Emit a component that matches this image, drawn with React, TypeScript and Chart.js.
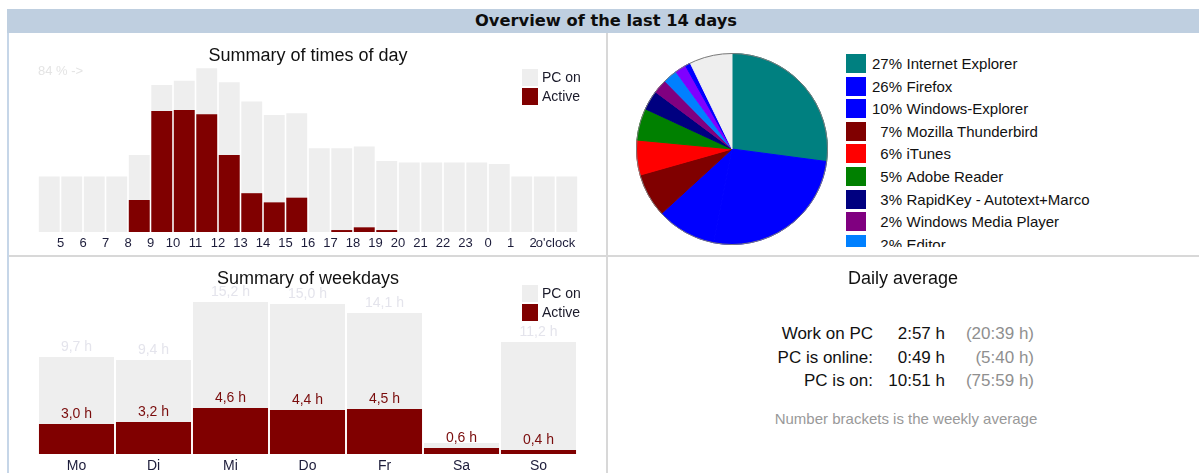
import React, { useEffect, useRef } from 'react';
import { Chart, registerables } from 'chart.js';

Chart.register(...registerables);

const FONT = '"Liberation Sans", Arial, sans-serif';
const BOLD_FONT = '"DejaVu Sans", Verdana, sans-serif';
const PC_ON_COLOR = '#EEEEEE';
const ACTIVE_COLOR = '#800000';
const TICK_COLOR = '#1c1c3a';

// ---- Summary of times of day (bars are hours 4..3, labels mark the start of each hour)
const hourCategories = ['4', '5', '6', '7', '8', '9', '10', '11', '12', '13', '14', '15', '16', '17', '18', '19', '20', '21', '22', '23', '0', '1', '2', '3'];
const hourTickLabels = ['', '5', '6', '7', '8', '9', '10', '11', '12', '13', '14', '15', '16', '17', '18', '19', '20', '21', '22', '23', '0', '1', '2', "o'clock", ''];
const pcOnByHour = [28.4, 28.4, 28.4, 28.4, 39.5, 75.4, 77.6, 84.0, 76.8, 66.9, 60.0, 60.9, 42.9, 42.9, 43.8, 36.4, 35.6, 35.6, 35.6, 35.6, 34.9, 28.4, 28.4, 28.4];
const activeByHour = [0, 0, 0, 0, 16.4, 62.1, 62.6, 60.4, 39.5, 19.9, 15.2, 17.6, 0, 1.0, 2.4, 1.0, 0, 0, 0, 0, 0, 0, 0, 0];

// ---- Summary of weekdays (hours)
const weekdays = ['Mo', 'Di', 'Mi', 'Do', 'Fr', 'Sa', 'So'];
const pcOnByWeekday = [9.7, 9.4, 15.2, 15.0, 14.1, 1.1, 11.2];
const activeByWeekday = [3.0, 3.2, 4.6, 4.4, 4.5, 0.6, 0.4];

// ---- Programs pie (percent)
const programNames = ['Internet Explorer', 'Firefox', 'Windows-Explorer', 'Mozilla Thunderbird', 'iTunes', 'Adobe Reader', 'RapidKey - Autotext+Marco', 'Windows Media Player', 'Editor', 'Program 10', 'Program 11', 'Others'];
const programShares = [27.1, 26.0, 10.1, 7.4, 5.9, 5.4, 3.3, 2.4, 2.4, 1.9, 0.9, 7.2];
const programColors = ['#008080', '#0000FF', '#0000FF', '#800000', '#FF0000', '#008000', '#000080', '#800080', '#0080FF', '#8000FF', '#0000FF', '#EEEEEE'];

// ---- Daily average
const averageLabels = ['Work on PC', 'PC is online:', 'PC is on:'];
const averageDaily = ['2:57 h', '0:49 h', '10:51 h'];
const averageWeekly = ['(20:39 h)', '(5:40 h)', '(75:59 h)'];

const fmtHours = (v: number) => v.toFixed(1).replace('.', ',') + ' h';

const weekdayLabelsPlugin = {
  id: 'weekdayLabels',
  afterDatasetsDraw(chart: any) {
    const ctx = chart.ctx;
    ctx.save();
    ctx.font = `14px ${FONT}`;
    ctx.textAlign = 'center';
    ctx.textBaseline = 'bottom';
    const activeMeta = chart.getDatasetMeta(0);
    const pcMeta = chart.getDatasetMeta(1);
    pcMeta.data.forEach((bar: any, i: number) => {
      if (pcOnByWeekday[i] - activeByWeekday[i] < 1.5) return;
      ctx.fillStyle = '#E4E4EC';
      ctx.fillText(fmtHours(pcOnByWeekday[i]), bar.x, bar.y - 3);
    });
    activeMeta.data.forEach((bar: any, i: number) => {
      ctx.fillStyle = '#7a0c0c';
      ctx.fillText(fmtHours(activeByWeekday[i]), bar.x, bar.y - 3);
    });
    ctx.restore();
  },
};

const pieOutlinePlugin = {
  id: 'pieOutline',
  afterDatasetsDraw(chart: any) {
    const arc = chart.getDatasetMeta(0).data[0];
    if (!arc) return;
    const ctx = chart.ctx;
    ctx.save();
    ctx.beginPath();
    ctx.arc(arc.x, arc.y, arc.outerRadius, 0, Math.PI * 2);
    ctx.strokeStyle = '#7a7a7a';
    ctx.lineWidth = 1;
    ctx.stroke();
    ctx.restore();
  },
};

const abs = (o: React.CSSProperties): React.CSSProperties => ({ position: 'absolute', ...o });

function Legend({ left, top }: { left: number; top: number }) {
  return (
    <>
      <div style={abs({ left, top, width: 16, height: 17, background: PC_ON_COLOR })} />
      <div style={abs({ left, top: top + 19, width: 16, height: 17, background: ACTIVE_COLOR })} />
      <div style={abs({ left: left + 20, top, height: 17, lineHeight: '17px', fontSize: 14, fontFamily: FONT, color: '#1a1a2a', whiteSpace: 'nowrap' })}>PC on</div>
      <div style={abs({ left: left + 20, top: top + 19, height: 17, lineHeight: '17px', fontSize: 14, fontFamily: FONT, color: '#1a1a2a', whiteSpace: 'nowrap' })}>Active</div>
    </>
  );
}

function Centered({ cx, cy, size, color, children, bold, family }: any) {
  return (
    <div style={abs({ left: cx - 250, width: 500, top: cy - 12, height: 24, lineHeight: '24px', textAlign: 'center', fontSize: size, color, fontFamily: family || FONT, fontWeight: bold ? 'bold' : 'normal', whiteSpace: 'nowrap' })}>
      {children}
    </div>
  );
}

export default function App() {
  const hoursRef = useRef<HTMLCanvasElement>(null);
  const pieRef = useRef<HTMLCanvasElement>(null);
  const weekRef = useRef<HTMLCanvasElement>(null);

  useEffect(() => {
    const charts: Chart[] = [];

    charts.push(
      new Chart(hoursRef.current!, {
        type: 'bar',
        data: {
          labels: hourCategories,
          datasets: [
            {
              label: 'Active',
              data: activeByHour.map((v, i) => ({ x: i + 4.5, y: v })),
              backgroundColor: ACTIVE_COLOR,
              grouped: false,
              barPercentage: 0.93,
              categoryPercentage: 1,
            } as any,
            {
              label: 'PC on',
              data: pcOnByHour.map((v, i) => ({ x: i + 4.5, y: v })),
              backgroundColor: PC_ON_COLOR,
              grouped: false,
              barPercentage: 0.93,
              categoryPercentage: 1,
            } as any,
          ],
        },
        options: {
          responsive: false,
          animation: false,
          devicePixelRatio: 1,
          layout: { padding: { left: 29, right: 28, top: 3, bottom: 0 } },
          plugins: { legend: { display: false }, tooltip: { enabled: false } },
          scales: {
            x: {
              type: 'linear',
              min: 4,
              max: 28,
              offset: false,
              grid: { display: false, drawTicks: false },
              border: { display: false },
              ticks: {
                stepSize: 1,
                maxTicksLimit: 30,
                autoSkip: false,
                maxRotation: 0,
                padding: 4,
                color: TICK_COLOR,
                font: { family: FONT, size: 13 },
                callback: (v: any) => hourTickLabels[Number(v) - 4] ?? '',
              },
              afterFit: (s: any) => {
                s.height = 23;
              },
            },
            y: { display: false, min: 0, max: 100 },
          },
        } as any,
      })
    );

    charts.push(
      new Chart(pieRef.current!, {
        type: 'pie',
        data: {
          labels: programNames,
          datasets: [
            {
              data: programShares,
              backgroundColor: programColors,
              borderColor: programColors,
              borderWidth: 1,
            },
          ],
        },
        options: {
          responsive: false,
          animation: false,
          devicePixelRatio: 1,
          layout: { padding: 4 },
          plugins: { legend: { display: false }, tooltip: { enabled: false } },
        },
        plugins: [pieOutlinePlugin],
      })
    );

    charts.push(
      new Chart(weekRef.current!, {
        type: 'bar',
        data: {
          labels: weekdays,
          datasets: [
            {
              label: 'Active',
              data: activeByWeekday,
              backgroundColor: ACTIVE_COLOR,
              grouped: false,
              barPercentage: 0.975,
              categoryPercentage: 1,
            } as any,
            {
              label: 'PC on',
              data: pcOnByWeekday,
              backgroundColor: PC_ON_COLOR,
              grouped: false,
              barPercentage: 0.975,
              categoryPercentage: 1,
            } as any,
          ],
        },
        options: {
          responsive: false,
          animation: false,
          devicePixelRatio: 1,
          layout: { padding: { left: 29, right: 29, top: 37, bottom: 0 } },
          plugins: { legend: { display: false }, tooltip: { enabled: false } },
          scales: {
            x: {
              grid: { display: false, drawTicks: false },
              border: { display: false },
              ticks: { padding: 4, color: TICK_COLOR, font: { family: FONT, size: 14 }, maxRotation: 0 },
              afterFit: (s: any) => {
                s.height = 19;
              },
            },
            y: { display: false, min: 0, max: 16 },
          },
        } as any,
        plugins: [weekdayLabelsPlugin],
      })
    );

    return () => charts.forEach((c) => c.destroy());
  }, []);

  const maxHourShare = Math.round(Math.max(...pcOnByHour));

  return (
    <div style={abs({ left: 0, top: 0, width: 1199, height: 473, overflow: 'hidden', background: '#fff', fontFamily: FONT })}>
      {/* frame */}
      <div style={abs({ left: 7, top: 9, width: 1192, height: 24, background: '#BFCFE0' })} />
      <div style={abs({ left: 7, top: 33, width: 2, height: 440, background: '#C6D6E8' })} />
      <div style={abs({ left: 9, top: 255, width: 1190, height: 2, background: '#D8D8D8' })} />
      <div style={abs({ left: 606, top: 33, width: 2, height: 440, background: '#D8D8D8' })} />
      <Centered cx={606} cy={21} size={16.3} color="#0d0d0d" bold family={BOLD_FONT}>Overview of the last 14 days</Centered>

      {/* times of day */}
      <canvas ref={hoursRef} width={597} height={221} style={abs({ left: 9, top: 34, width: 597, height: 221 })} />
      <Centered cx={308} cy={55} size={18} color="#111">Summary of times of day</Centered>
      <div style={abs({ left: 38, top: 63, fontSize: 13, lineHeight: '16px', color: '#E4E4E4', whiteSpace: 'nowrap' })}>{`${maxHourShare} % ->`}</div>
      <Legend left={522} top={69} />

      {/* pie */}
      <canvas ref={pieRef} width={200} height={200} style={abs({ left: 632, top: 49, width: 200, height: 200 })} />
      <div style={abs({ left: 846, top: 54, width: 350, height: 193, overflow: 'hidden' })}>
        {programNames.map((name, i) => (
          <div key={name} style={abs({ left: 0, top: i * 22.6, width: 350, height: 20 })}>
            <div style={abs({ left: 0, top: 0, width: 20, height: 19, background: programColors[i] })} />
            <div style={abs({ left: 22, top: 0, width: 34, textAlign: 'right', fontSize: 15, lineHeight: '19px', color: '#111' })}>{`${Math.round(programShares[i])}%`}</div>
            <div style={abs({ left: 60.5, top: 0, fontSize: 15, lineHeight: '19px', color: '#111', whiteSpace: 'nowrap' })}>{name}</div>
          </div>
        ))}
      </div>

      {/* weekdays */}
      <canvas ref={weekRef} width={597} height={216} style={abs({ left: 9, top: 257, width: 597, height: 216 })} />
      <Centered cx={308} cy={278} size={18} color="#111">Summary of weekdays</Centered>
      <Legend left={522} top={285} />

      {/* daily average */}
      <Centered cx={903} cy={278} size={18} color="#111">Daily average</Centered>
      {averageLabels.map((label, i) => (
        <React.Fragment key={label}>
          <div style={abs({ left: 673, width: 200, top: 323 + i * 23.5, lineHeight: '22px', textAlign: 'right', fontSize: 17, color: '#111', whiteSpace: 'nowrap' })}>{label}</div>
          <div style={abs({ left: 845, width: 100, top: 323 + i * 23.5, lineHeight: '22px', textAlign: 'right', fontSize: 17, color: '#111', whiteSpace: 'nowrap' })}>{averageDaily[i]}</div>
          <div style={abs({ left: 934, width: 100, top: 323 + i * 23.5, lineHeight: '22px', textAlign: 'right', fontSize: 17, color: '#8f8f8f', whiteSpace: 'nowrap' })}>{averageWeekly[i]}</div>
        </React.Fragment>
      ))}
      <Centered cx={906} cy={419} size={15} color="#999">Number brackets is the weekly average</Centered>
    </div>
  );
}
